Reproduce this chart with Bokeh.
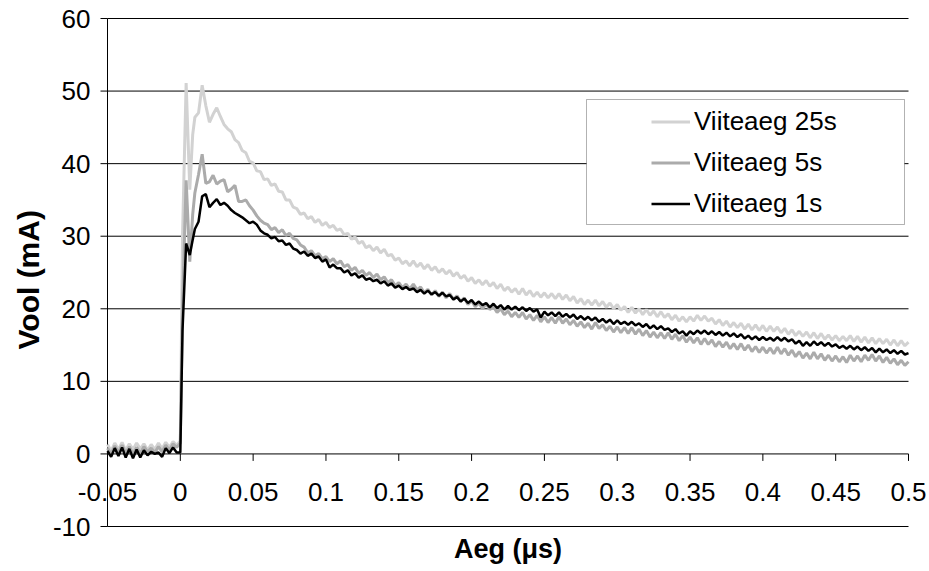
import math
import numpy as np
from bokeh.plotting import figure
from bokeh.models import (Range1d, Legend, LegendItem, BoxAnnotation,
                          ColumnDataSource, LabelSet, Label)
from bokeh.core.properties import value
from bokeh.embed import file_html
from bokeh.resources import INLINE

# ---------------- data ----------------
# sampling times (µs): 20 points before the step, 5 around the step, 197 after
t_pre = -0.05 + 0.0025 * np.arange(20)
t_rise = np.array([0.0, 0.0015, 0.004, 0.0065, 0.0085])
t_post = 0.01 + 0.0025 * np.arange(197)
aeg = np.round(np.concatenate([t_pre, t_rise, t_post]), 5)

# Viiteaeg 1s (black)
vool_1s = [
    0.4, -0.4, 0.8, -0.3, 0.9, -0.5, 0.7, -0.6, 0.6, -0.5,
    0.5, -0.2, 0.3, 0.0, 0.2, -0.4, 0.8, 0.1, 0.9, 0.2,
    0.2, 17.0, 29.0, 27.4, 29.5,
    31.0, 32.0, 35.5, 35.8, 34.0, 34.6, 35.1, 34.3, 34.6, 34.2,
    33.6, 33.2, 32.9, 32.6, 32.2, 31.8, 32.0, 31.6, 30.8, 30.4,
    30.2, 29.7, 29.9, 29.3, 29.4, 28.8, 29.0, 28.3, 28.1, 27.6,
    27.9, 27.3, 27.6, 27.0, 27.2, 26.5, 26.8, 25.7, 26.1, 25.6,
    25.6, 25.0, 25.3, 24.6, 24.9, 24.3, 24.6, 24.0, 24.2, 23.8,
    24.0, 23.5, 23.8, 23.2, 23.5, 22.9, 23.2, 22.7, 23.0, 22.6,
    22.8, 22.3, 22.6, 22.1, 22.5, 22.0, 22.3, 21.8, 22.2, 21.7,
    21.9, 21.3, 21.6, 21.0, 21.4, 20.8, 21.2, 20.6, 21.0, 20.5,
    20.8, 20.2, 20.7, 20.1, 20.5, 19.9, 20.4, 19.9, 20.3, 19.8,
    20.2, 19.7, 20.1, 19.6, 19.9, 18.8, 19.6, 19.1, 19.5, 19.0,
    19.5, 18.9, 19.3, 18.8, 19.2, 18.6, 19.0, 18.5, 18.9, 18.4,
    18.8, 18.2, 18.6, 18.1, 18.5, 17.9, 18.4, 17.9, 18.2, 17.8,
    18.2, 17.7, 18.0, 17.5, 17.9, 17.3, 17.7, 17.2, 17.6, 17.1,
    17.3, 16.8, 17.2, 16.6, 16.9, 16.3, 16.9, 16.5, 17.0, 16.6,
    17.0, 16.5, 16.9, 16.4, 16.8, 16.3, 16.7, 16.2, 16.6, 16.1,
    16.5, 15.9, 16.3, 15.8, 16.2, 15.7, 16.1, 15.7, 16.0, 15.6,
    16.1, 15.6, 16.0, 15.5, 15.8, 15.2, 15.6, 14.9, 15.4, 14.9,
    15.5, 15.0, 15.4, 14.9, 15.3, 14.8, 15.1, 14.6, 14.9, 14.5,
    14.9, 14.4, 14.8, 14.3, 14.7, 14.2, 14.6, 14.0, 14.5, 14.0,
    14.4, 13.9, 14.3, 13.8, 14.2, 13.7, 13.9,
]

# Viiteaeg 5s (grey)
vool_5s = [
    0.8, 0.0, 1.1, 0.2, 1.2, 0.1, 1.0, 0.0, 0.9, 0.1,
    1.0, 0.3, 0.8, 0.2, 1.0, 0.3, 1.2, 0.5, 1.4, 0.9,
    1.5, 20.0, 37.7, 26.5, 33.0,
    36.0, 38.5, 41.3, 37.3, 37.5, 38.4, 37.2, 37.6, 37.8, 36.1,
    36.5, 37.0, 34.8, 34.8, 35.0, 34.2, 33.6, 32.8, 32.2, 31.8,
    31.6, 30.9, 31.2, 30.5, 30.9, 30.1, 30.4, 29.7, 29.5, 28.8,
    28.5, 27.7, 28.0, 27.3, 27.6, 26.9, 27.2, 26.5, 26.9, 26.2,
    26.6, 25.8, 26.1, 25.3, 25.7, 24.9, 25.3, 24.6, 25.0, 24.3,
    24.8, 24.0, 24.4, 23.6, 24.0, 23.2, 23.6, 22.9, 23.4, 22.7,
    23.4, 22.6, 23.0, 22.2, 22.7, 21.9, 22.5, 21.7, 22.3, 21.5,
    22.1, 21.3, 21.8, 21.0, 21.5, 20.6, 21.1, 20.3, 20.8, 20.0,
    20.7, 19.9, 20.3, 19.5, 20.0, 19.2, 19.7, 18.9, 19.5, 18.8,
    19.5, 18.6, 19.2, 18.4, 19.1, 18.2, 18.9, 18.1, 18.8, 18.0,
    18.9, 18.0, 18.6, 17.8, 18.4, 17.6, 18.2, 17.4, 18.0, 17.2,
    18.1, 17.3, 17.8, 17.0, 17.6, 16.8, 17.5, 16.7, 17.4, 16.6,
    17.4, 16.5, 17.2, 16.3, 17.0, 16.1, 16.8, 16.0, 16.7, 15.9,
    16.7, 15.8, 16.5, 15.6, 16.3, 15.4, 16.1, 15.3, 16.0, 15.1,
    15.9, 15.1, 15.7, 14.8, 15.5, 14.7, 15.4, 14.5, 15.2, 14.4,
    15.2, 14.3, 15.0, 14.1, 14.8, 14.0, 14.7, 13.9, 14.6, 13.8,
    14.7, 13.8, 14.5, 13.6, 14.3, 13.4, 14.1, 13.2, 13.9, 13.1,
    14.0, 13.1, 13.8, 12.9, 13.6, 12.8, 13.5, 12.7, 13.4, 12.6,
    13.6, 12.8, 13.5, 12.7, 13.6, 12.9, 13.7, 12.8, 13.5, 12.6,
    13.3, 12.5, 13.1, 12.3, 12.9, 12.2, 12.7,
]

# Viiteaeg 25s (light grey)
vool_25s = [
    1.3, 0.4, 1.5, 0.6, 1.6, 0.5, 1.4, 0.6, 1.5, 0.7,
    1.4, 0.5, 1.3, 0.6, 1.5, 0.7, 1.6, 0.9, 1.7, 1.2,
    1.8, 30.0, 51.1, 36.4, 44.0,
    46.4, 47.0, 50.8, 48.0, 45.7, 46.8, 47.7, 46.5, 45.4, 44.8,
    44.4, 43.3, 42.9, 41.8, 41.5, 40.3, 40.1, 39.0, 38.9, 37.8,
    37.9, 37.0, 37.2, 36.2, 36.1, 35.0, 35.0, 34.0, 33.8, 33.0,
    33.2, 32.4, 32.7, 31.9, 32.3, 31.5, 31.9, 31.2, 31.5, 30.8,
    31.0, 30.2, 30.4, 29.6, 29.9, 29.0, 29.3, 28.4, 28.7, 28.0,
    28.5, 27.7, 28.2, 27.3, 27.5, 26.7, 27.0, 26.2, 26.6, 25.9,
    26.6, 25.8, 26.3, 25.5, 26.1, 25.3, 25.8, 25.0, 25.5, 24.8,
    25.3, 24.5, 25.0, 24.2, 24.6, 23.8, 24.3, 23.5, 24.0, 23.3,
    23.9, 23.1, 23.6, 22.8, 23.4, 22.5, 23.0, 22.3, 22.8, 22.0,
    22.8, 21.9, 22.5, 21.7, 22.3, 21.6, 22.2, 21.5, 22.1, 21.4,
    22.1, 21.3, 21.9, 21.1, 21.7, 20.8, 21.4, 20.6, 21.2, 20.5,
    21.2, 20.4, 21.0, 20.2, 20.8, 20.0, 20.6, 19.8, 20.3, 19.5,
    20.2, 19.4, 20.0, 19.2, 19.9, 19.1, 19.7, 18.9, 19.6, 18.8,
    19.3, 18.5, 19.1, 18.3, 18.9, 18.2, 18.9, 18.3, 19.1, 18.4,
    19.0, 18.3, 18.7, 17.9, 18.5, 17.7, 18.3, 17.5, 18.1, 17.4,
    18.0, 17.2, 17.9, 17.1, 17.8, 17.0, 17.7, 16.9, 17.6, 16.9,
    17.5, 16.7, 17.3, 16.5, 17.1, 16.3, 16.9, 16.2, 16.8, 16.0,
    16.7, 15.9, 16.6, 15.8, 16.4, 15.7, 16.3, 15.6, 16.2, 15.6,
    16.3, 15.5, 16.2, 15.4, 16.1, 15.3, 16.0, 15.2, 15.9, 15.2,
    15.8, 15.0, 15.7, 14.9, 15.6, 14.9, 15.4,
]

series_names = ["Viiteaeg 25s", "Viiteaeg 5s", "Viiteaeg 1s"]

x_ticks = [-0.05, 0.0, 0.05, 0.1, 0.15, 0.2, 0.25, 0.3, 0.35, 0.4, 0.45, 0.5]
x_tick_labels = ["-0.05", "0", "0.05", "0.1", "0.15", "0.2", "0.25", "0.3",
                 "0.35", "0.4", "0.45", "0.5"]
y_ticks = [-10, 0, 10, 20, 30, 40, 50, 60]
y_tick_labels = ["-10", "0", "10", "20", "30", "40", "50", "60"]

# ---------------- layout constants ----------------
W, H = 929, 571
PLOT_L, PLOT_R, PLOT_T, PLOT_B = 107, 908, 18, 526      # pixel box of the axes area
FONT = "Liberation Sans"
TICK_SIZE = "26px"

xmin, xmax = x_ticks[0], x_ticks[-1]
ymin, ymax = y_ticks[0], y_ticks[-1]
sx = (PLOT_R - PLOT_L) / (xmax - xmin)       # px per x unit
sy = (PLOT_B - PLOT_T) / (ymax - ymin)       # px per y unit
# the frame fills the whole canvas so that tick labels outside the axes box are not clipped
x_range = Range1d(xmin - PLOT_L / sx, xmax + (W - PLOT_R) / sx)
y_range = Range1d(ymin - (H - PLOT_B) / sy, ymax + PLOT_T / sy)

p = figure(width=W, height=H, x_range=x_range, y_range=y_range,
           x_axis_location=None, y_axis_location=None,
           output_backend="svg", toolbar_location=None,
           min_border=0, min_border_left=0, min_border_right=0,
           min_border_top=0, min_border_bottom=0)
p.outline_line_color = None
p.background_fill_color = "white"
p.border_fill_color = "white"
p.xgrid.visible = False
p.ygrid.visible = False

# horizontal grid lines spanning exactly the axes box
n_y = len(y_ticks)
p.segment(x0=[xmin] * n_y, y0=y_ticks, x1=[xmax] * n_y, y1=y_ticks,
          line_color="black", line_width=1)

# y axis: line, outward ticks and labels
TICK_LEN = 7
p.segment(x0=[xmin], y0=[ymin], x1=[xmin], y1=[ymax], line_color="black", line_width=1)
p.segment(x0=[xmin] * n_y, y0=y_ticks, x1=[xmin - TICK_LEN / sx] * n_y,
          y1=y_ticks, line_color="black", line_width=1)
ylab_src = ColumnDataSource(dict(x=[xmin] * n_y, y=y_ticks, text=y_tick_labels))
p.add_layout(LabelSet(x="x", y="y", text="text", source=ylab_src, x_offset=-(TICK_LEN + 10),
                      text_align="right", text_baseline="middle",
                      text_font=value(FONT), text_font_size=value(TICK_SIZE),
                      text_color="black"))

# x axis on y = 0: ticks hanging down, labels below
p.segment(x0=x_ticks, y0=[0] * len(x_ticks), x1=x_ticks, y1=[-TICK_LEN / sy] * len(x_ticks),
          line_color="black", line_width=1)
xlab_src = ColumnDataSource(dict(x=x_ticks, y=[-5.3] * len(x_ticks), text=x_tick_labels))
p.add_layout(LabelSet(x="x", y="y", text="text", source=xlab_src,
                      text_align="center", text_baseline="middle",
                      text_font=value(FONT), text_font_size=value(TICK_SIZE),
                      text_color="black"))

# axis titles
p.add_layout(Label(x=xmin - (PLOT_L - 28) / sx, y=24, text="Vool (mA)", angle=math.pi / 2,
                   text_align="center", text_baseline="middle", text_font=FONT,
                   text_font_size="30px", text_font_style="bold", text_color="black"))
p.add_layout(Label(x=(xmin + xmax) / 2, y=ymin - 22 / sy, text="Aeg (μs)",
                   text_align="center", text_baseline="middle", text_font=FONT,
                   text_font_size="27px", text_font_style="bold", text_color="black"))

# data series
src = ColumnDataSource(dict(aeg=aeg, s25=vool_25s, s5=vool_5s, s1=vool_1s))
r25 = p.line("aeg", "s25", source=src, line_color="#d2d2d2", line_width=3)
r5 = p.line("aeg", "s5", source=src, line_color="#ababab", line_width=3)
r1 = p.line("aeg", "s1", source=src, line_color="black", line_width=2.5)

# legend frame (white, hides the grid) and the legend on top of it
box = BoxAnnotation(left=xmin + (586 - PLOT_L) / sx, right=xmin + (904 - PLOT_L) / sx,
                    top=ymax - (99 - PLOT_T) / sy, bottom=ymax - (224 - PLOT_T) / sy,
                    fill_color="white", fill_alpha=1.0, line_color="black", line_width=1)
p.add_layout(box)

legend = Legend(items=[LegendItem(label=series_names[0], renderers=[r25]),
                       LegendItem(label=series_names[1], renderers=[r5]),
                       LegendItem(label=series_names[2], renderers=[r1])],
                location=(651, H - 224), padding=0, margin=0, spacing=0,
                glyph_width=39, glyph_height=41, label_height=41, label_standoff=4,
                label_text_font=FONT, label_text_font_size="26px", label_text_color="black",
                background_fill_alpha=0, border_line_alpha=0)
p.add_layout(legend)

open("out.html", "w").write(file_html(p, INLINE))
